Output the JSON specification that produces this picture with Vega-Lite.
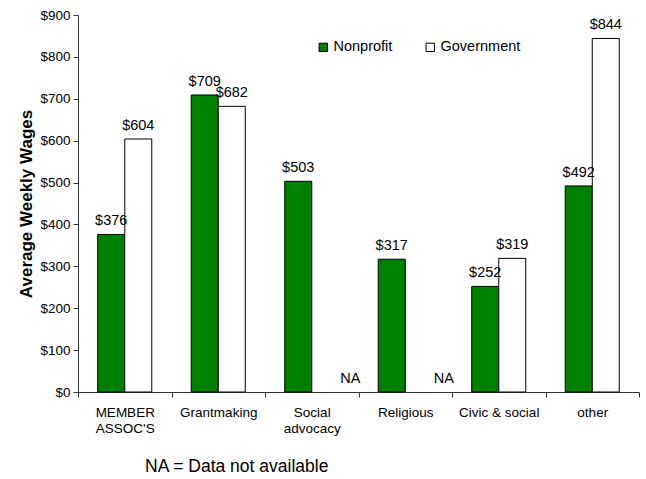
{
  "$schema": "https://vega.github.io/schema/vega-lite/v6.json",
  "autosize": {"type": "none"},
  "width": 561,
  "height": 377,
  "padding": {"left": 78, "top": 15, "right": 7, "bottom": 87},
  "background": "white",
  "title": {
    "text": "NA = Data not available",
    "orient": "bottom",
    "anchor": "start",
    "frame": "group",
    "dx": 67,
    "offset": 23,
    "fontSize": 17.5,
    "fontWeight": "normal",
    "font": "Liberation Sans",
    "color": "black"
  },
  "data": {
    "values": [
      {"category": "MEMBER ASSOC'S", "series": "Nonprofit", "value": 376},
      {"category": "MEMBER ASSOC'S", "series": "Government", "value": 604},
      {"category": "Grantmaking", "series": "Nonprofit", "value": 709},
      {"category": "Grantmaking", "series": "Government", "value": 682},
      {"category": "Social advocacy", "series": "Nonprofit", "value": 503},
      {"category": "Social advocacy", "series": "Government", "value": null},
      {"category": "Religious", "series": "Nonprofit", "value": 317},
      {"category": "Religious", "series": "Government", "value": null},
      {"category": "Civic & social", "series": "Nonprofit", "value": 252},
      {"category": "Civic & social", "series": "Government", "value": 319},
      {"category": "other", "series": "Nonprofit", "value": 492},
      {"category": "other", "series": "Government", "value": 844}
    ]
  },
  "encoding": {
    "x": {
      "field": "category",
      "type": "nominal",
      "sort": null,
      "scale": {"paddingInner": 0, "paddingOuter": 0},
      "axis": {
        "title": null,
        "labelAngle": 0,
        "tickBand": "extent",
        "tickSize": 5,
        "tickColor": "#333333",
        "domainColor": "#333333",
        "labelPadding": 8,
        "labelBaseline": "top",
        "labelLineHeight": 16,
        "labelFont": "Liberation Sans",
        "labelFontSize": 13.5,
        "labelColor": "black",
        "labelExpr": "datum.label == 'Civic & social' ? datum.label : split(datum.label, ' ')"
      }
    },
    "xOffset": {
      "field": "series",
      "type": "nominal",
      "scale": {"domain": ["Nonprofit", "Government"], "paddingInner": 0, "paddingOuter": 0.73}
    }
  },
  "layer": [
    {
      "mark": {"type": "bar", "stroke": "black", "strokeWidth": 1},
      "encoding": {
        "y": {
          "field": "value",
          "type": "quantitative",
          "scale": {"domain": [0, 900], "nice": false},
          "axis": {
            "title": "Average Weekly Wages",
            "titleFont": "Liberation Sans",
            "titleFontSize": 17,
            "titleFontWeight": "bold",
            "titleColor": "black",
            "titlePadding": 4,
            "values": [0, 100, 200, 300, 400, 500, 600, 700, 800, 900],
            "format": "$.0f",
            "grid": false,
            "tickSize": 5,
            "tickColor": "#333333",
            "domainColor": "#333333",
            "labelPadding": 3,
            "labelFont": "Liberation Sans",
            "labelFontSize": 13.5,
            "labelColor": "black"
          }
        },
        "fill": {
          "field": "series",
          "type": "nominal",
          "scale": {"domain": ["Nonprofit", "Government"], "range": ["#008000", "#ffffff"]},
          "legend": {
            "title": null,
            "orient": "none",
            "legendX": 238,
            "legendY": 25,
            "direction": "horizontal",
            "symbolType": "square",
            "symbolSize": 70,
            "symbolStrokeColor": "black",
            "symbolStrokeWidth": 1,
            "symbolOpacity": 1,
            "labelFont": "Liberation Sans",
            "labelFontSize": 14.5,
            "labelColor": "black",
            "labelOffset": 3,
            "columnPadding": 30
          }
        }
      }
    },
    {
      "transform": [{"filter": "datum.value != null"}],
      "mark": {"type": "text", "baseline": "alphabetic", "dy": -9, "font": "Liberation Sans", "fontSize": 14.5, "color": "black"},
      "encoding": {
        "y": {"field": "value", "type": "quantitative"},
        "text": {"field": "value", "type": "quantitative", "format": "$.0f"}
      }
    },
    {
      "transform": [{"filter": "datum.value == null"}],
      "mark": {"type": "text", "baseline": "alphabetic", "dy": -9, "dx": 25, "font": "Liberation Sans", "fontSize": 14.5, "color": "black"},
      "encoding": {
        "y": {"datum": 0},
        "text": {"value": "NA"}
      }
    }
  ],
  "config": {
    "view": {"stroke": null}
  }
}
